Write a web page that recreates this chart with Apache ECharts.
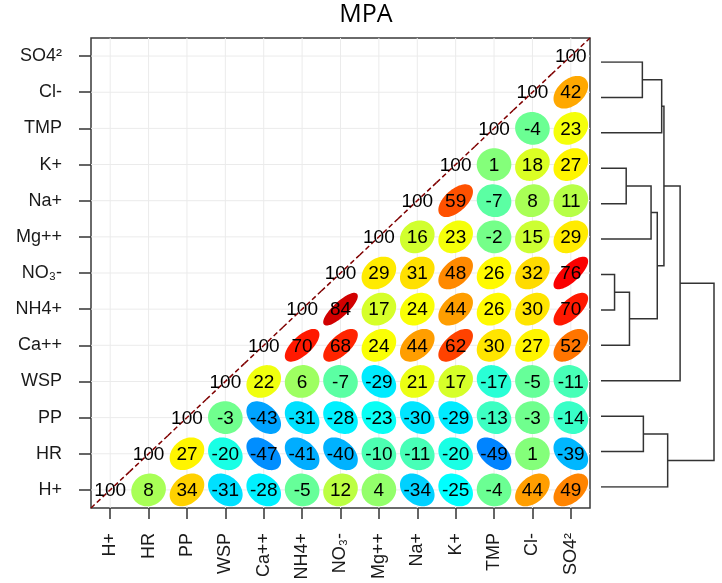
<!DOCTYPE html>
<html>
<head>
<meta charset="utf-8">
<title>MPA</title>
<script src="https://cdn.jsdelivr.net/npm/echarts@6/dist/echarts.min.js"></script>
<style>
html, body { margin: 0; padding: 0; background: #fff; }
#chart { width: 722px; height: 583px; }
</style>
</head>
<body>
<div id="chart"></div>
<script>
// variables, bottom row / left column first
var vars = ['H+', 'HR', 'PP', 'WSP', 'Ca++', 'NH4+', 'NO₃-', 'Mg++', 'Na+', 'K+', 'TMP', 'Cl-', 'SO4²'];

// correlations (x100), each row starts at its diagonal cell and goes right
var rowH   = [100, 8, 34, -31, -28, -5, 12, 4, -34, -25, -4, 44, 49];
var rowHR  = [100, 27, -20, -47, -41, -40, -10, -11, -20, -49, 1, -39];
var rowPP  = [100, -3, -43, -31, -28, -23, -30, -29, -13, -3, -14];
var rowWSP = [100, 22, 6, -7, -29, 21, 17, -17, -5, -11];
var rowCa  = [100, 70, 68, 24, 44, 62, 30, 27, 52];
var rowNH4 = [100, 84, 17, 24, 44, 26, 30, 70];
var rowNO3 = [100, 29, 31, 48, 26, 32, 76];
var rowMg  = [100, 16, 23, -2, 15, 29];
var rowNa  = [100, 59, -7, 8, 11];
var rowK   = [100, 1, 18, 27];
var rowTMP = [100, -4, 23];
var rowCl  = [100, 42];
var rowSO4 = [100];
var rows = [rowH, rowHR, rowPP, rowWSP, rowCa, rowNH4, rowNO3, rowMg, rowNa, rowK, rowTMP, rowCl, rowSO4];

// dendrogram merges: strings are leaves, numbers point to an earlier merge (1-based)
var dendroA = ['SO4²', 1, 'K+', 3, 'NO₃-', 5, 4, 2, 8, 'PP', 10, 9];
var dendroB = ['Cl-', 'TMP', 'Na+', 'Mg++', 'NH4+', 'Ca++', 6, 7, 'WSP', 'HR', 'H+', 11];
var dendroH = [0.366, 0.537, 0.223, 0.443, 0.12, 0.252, 0.498, 0.557, 0.70, 0.375, 0.59, 1.0];

var jet = ['#00007F', '#0000FF', '#007FFF', '#00FFFF', '#7FFF7F', '#FFFF00', '#FF7F00', '#FF0000', '#7F0000'];

var cells = [];
rows.forEach(function (r, i) {
  r.forEach(function (v, k) { cells.push([i + k, i, v]); });
});

// dendrogram segments
var nodePos = [];
function posOf(ref) {
  if (typeof ref === 'string') return [0, vars.indexOf(ref)];
  return nodePos[ref - 1];
}
var dendroLines = [];
dendroH.forEach(function (h, m) {
  var a = posOf(dendroA[m]), b = posOf(dendroB[m]);
  dendroLines.push({ coords: [[a[0], a[1]], [h, a[1]], [h, b[1]], [b[0], b[1]]] });
  nodePos.push([h, (a[1] + b[1]) / 2]);
});

var SCALE = 0.85;
var FONT = '"Liberation Sans", Arial, "DejaVu Sans", sans-serif';

function renderGridLines(params, api) {
  var c = api.coord([api.value(0), api.value(1)]);
  var cs = params.coordSys;
  var st = { stroke: '#ebebeb', lineWidth: 1 };
  return {
    type: 'group',
    children: [
      { type: 'line', shape: { x1: c[0], y1: cs.y, x2: c[0], y2: cs.y + cs.height }, style: st },
      { type: 'line', shape: { x1: cs.x, y1: c[1], x2: cs.x + cs.width, y2: c[1] }, style: st }
    ]
  };
}

function renderEllipse(params, api) {
  var c = api.coord([api.value(0), api.value(1)]);
  var s = api.size([1, 1]);
  var v = api.value(2);
  var r = v / 100;
  var color = api.visual('color');
  var children = [];
  if (r >= 1) {
    children.push({
      type: 'line',
      shape: { x1: c[0] - s[0] / 2, y1: c[1] + s[1] / 2, x2: c[0] + s[0] / 2, y2: c[1] - s[1] / 2 },
      style: { stroke: color, lineWidth: 1.5, lineDash: [5, 3] }
    });
  } else {
    var d = Math.acos(r);
    var pts = [];
    for (var k = 0; k < 72; k++) {
      var t = 2 * Math.PI * k / 72;
      var dx = Math.cos(t + d / 2) / 2;
      var dy = Math.cos(t - d / 2) / 2;
      pts.push([c[0] + dx * s[0] * SCALE, c[1] - dy * s[1] * SCALE]);
    }
    children.push({ type: 'polygon', shape: { points: pts }, style: { fill: color, stroke: color, lineWidth: 2 } });
  }
  children.push({
    type: 'text',
    style: {
      text: String(v), x: c[0], y: c[1] + 1,
      font: '19px ' + FONT, fill: '#000',
      align: 'center', verticalAlign: 'middle',
      textAlign: 'center', textVerticalAlign: 'middle'
    }
  });
  return { type: 'group', children: children };
}

var chart = echarts.init(document.getElementById('chart'));
chart.setOption({
  animation: false,
  backgroundColor: '#fff',
  graphic: [{
    type: 'text', x: 366, y: 15,
    style: {
      text: 'MPA', font: '25px "Open Sans", "Noto Sans", sans-serif', fill: '#000',
      align: 'center', verticalAlign: 'middle', textAlign: 'center', textVerticalAlign: 'middle'
    }
  }],
  visualMap: {
    type: 'continuous', show: false, min: -100, max: 100,
    dimension: 2, seriesIndex: 1,
    inRange: { color: jet }
  },
  grid: [
    { left: 91, top: 38, width: 499, height: 470, show: true, borderColor: '#3a3a3a', borderWidth: 1.5, backgroundColor: 'transparent' },
    { left: 601, top: 62, width: 113, height: 425 }
  ],
  xAxis: [{
    type: 'category', gridIndex: 0, data: vars, boundaryGap: true,
    axisLine: { show: false },
    axisTick: { show: true, alignWithLabel: true, length: 11, lineStyle: { color: '#333', width: 1.5 } },
    axisLabel: { rotate: 90, margin: 25, color: '#1a1a1a', fontSize: 18, fontFamily: FONT, interval: 0 },
    splitLine: { show: false }
  }, {
    type: 'value', gridIndex: 1, min: 0, max: 1, show: false
  }],
  yAxis: [{
    type: 'category', gridIndex: 0, data: vars, boundaryGap: true,
    axisLine: { show: false },
    axisTick: { show: true, alignWithLabel: true, length: 12, lineStyle: { color: '#333', width: 1.5 } },
    axisLabel: { margin: 29, color: '#1a1a1a', fontSize: 18, fontFamily: FONT, interval: 0 },
    splitLine: { show: false }
  }, {
    type: 'value', gridIndex: 1, min: 0, max: 12, show: false
  }],
  series: [{
    type: 'custom', xAxisIndex: 0, yAxisIndex: 0, silent: true, z: 1,
    renderItem: renderGridLines,
    data: vars.map(function (v, i) { return [i, i]; })
  }, {
    type: 'custom', xAxisIndex: 0, yAxisIndex: 0, silent: true, z: 2,
    renderItem: renderEllipse,
    encode: { x: 0, y: 1 },
    data: cells
  }, {
    type: 'lines', coordinateSystem: 'cartesian2d', xAxisIndex: 1, yAxisIndex: 1,
    polyline: true, silent: true,
    lineStyle: { color: '#333', width: 1.5, opacity: 1 },
    data: dendroLines
  }]
});
</script>
</body>
</html>
